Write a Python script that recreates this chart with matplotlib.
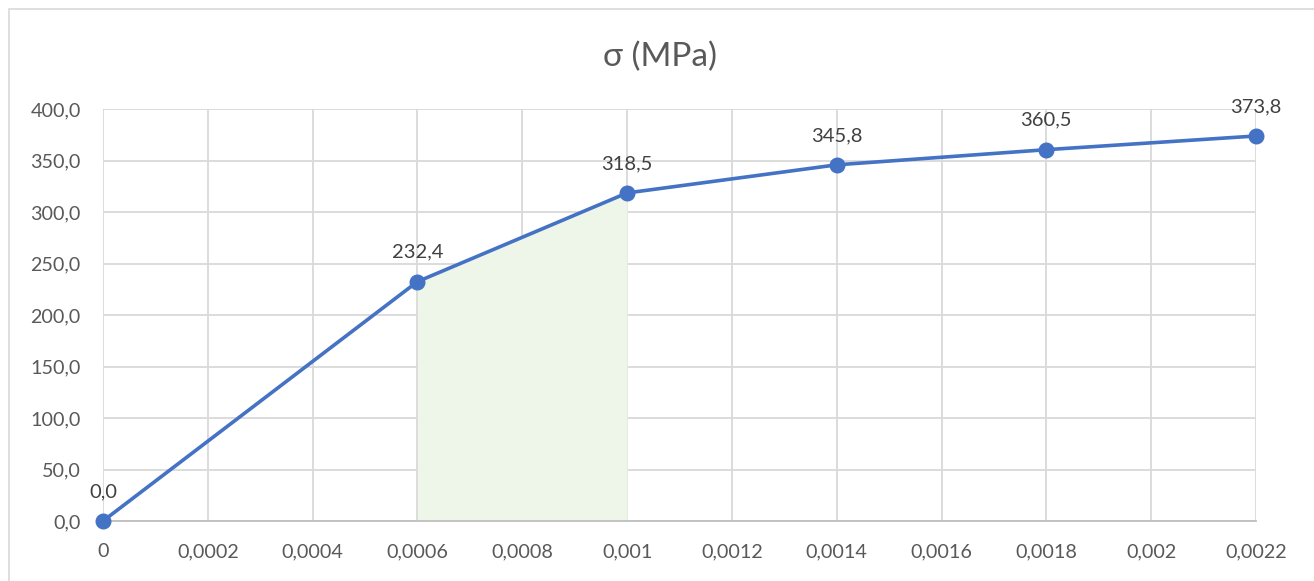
import matplotlib
matplotlib.use("Agg")
import matplotlib.pyplot as plt
import matplotlib.patches as mpatches
import numpy as np
from matplotlib.ticker import FuncFormatter, MultipleLocator

# Data
strain = [0, 0.0006, 0.001, 0.0014, 0.0018, 0.0022]
stress = [0.0, 232.4, 318.5, 345.8, 360.5, 373.8]
shade_x = [0.0006, 0.001]
shade_y = [232.4, 318.5]
title = "σ (MPa)"

plt.rcParams['font.family'] = ['Lato', 'DejaVu Sans']

W, H = 1314, 581
fig = plt.figure(figsize=(W / 100, H / 100), dpi=100)
ax = fig.add_axes([103 / W, 1 - 521 / H, (1256 - 103) / W, (521 - 109) / H])

grid_c = '#D9D9D9'
text_c = '#595959'
line_c = '#4472C4'

ax.fill_between(shade_x, shade_y, 0, color='#EEF5E9', zorder=1, linewidth=0)
ax.plot(strain, stress, color=line_c, linewidth=2.6, marker='o', markersize=10.5,
        markerfacecolor=line_c, markeredgecolor=line_c, zorder=3, clip_on=False)

for x, y in zip(strain, stress):
    ax.annotate(f"{y:.1f}".replace('.', ','), (x, y), xytext=(0, 15),
                textcoords='offset points', ha='center', va='bottom',
                fontsize=14.5, color='#404040', zorder=4)

ax.set_xlim(0, 0.0022)
ax.set_ylim(0, 400)
ax.xaxis.set_major_locator(MultipleLocator(0.0002))
ax.yaxis.set_major_locator(MultipleLocator(50))
ax.xaxis.set_major_formatter(FuncFormatter(lambda v, p: f"{round(v, 6):g}".replace('.', ',')))
ax.yaxis.set_major_formatter(FuncFormatter(lambda v, p: f"{v:.1f}".replace('.', ',')))

ax.grid(True, color=grid_c, linewidth=1.3, zorder=0)
ax.set_axisbelow(True)
for s in ['top', 'right', 'left']:
    ax.spines[s].set_visible(False)
ax.spines['bottom'].set_color('#BFBFBF')
ax.spines['bottom'].set_linewidth(1.3)
ax.tick_params(axis='both', length=0, labelsize=14.2, labelcolor=text_c)
ax.tick_params(axis='x', pad=16)
ax.tick_params(axis='y', pad=16)

fig.text(660 / W, 1 - 57 / H, title, ha='center', va='center', fontsize=24, color=text_c)

rect = mpatches.Rectangle((8.5 / W, -0.1), 2, (1 - 8.5 / H) + 0.1, transform=fig.transFigure,
                          fill=False, edgecolor=grid_c, linewidth=1.2)
fig.patches.append(rect)

fig.savefig('out.png', dpi=100)
